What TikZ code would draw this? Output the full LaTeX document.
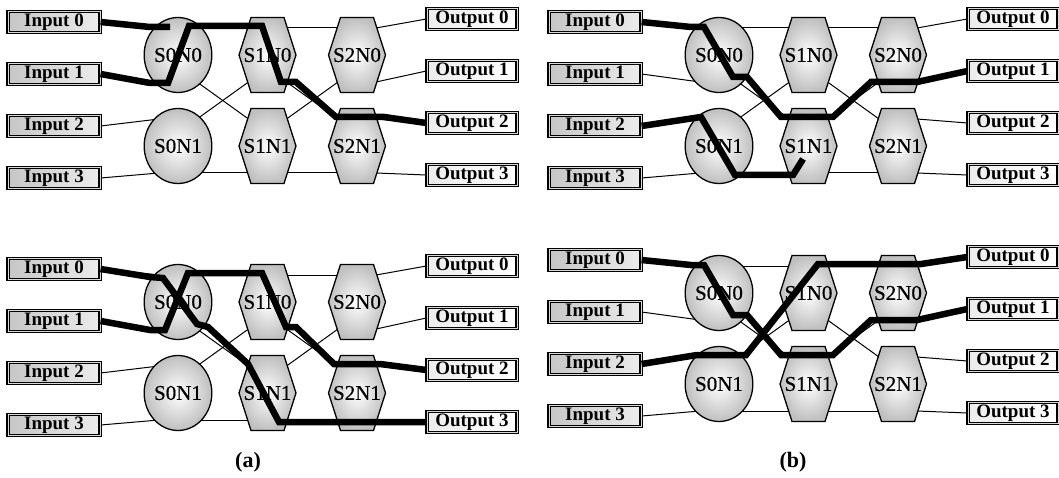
\documentclass[tikz,border=0pt]{standalone}
\usepackage{fontspec}
\setmainfont{Liberation Serif}
\newfontfamily\swfamily[FakeBold=0.6]{Liberation Serif}
\usetikzlibrary{shapes.geometric}
\pgfdeclarelayer{bg}
\pgfdeclarelayer{wires}
\pgfsetlayers{bg,wires,main}
\newcommand\boxfont{\bfseries\fontsize{19}{20}\selectfont}
\newcommand\swfont{\swfamily\fontsize{21}{22}\selectfont}
\tikzset{
 iobox/.style={draw=black, line width=1.2pt, double=gray!30, double distance=0.8pt, minimum width=90pt, minimum height=21pt, inner sep=0pt, font=\boxfont},
 inbox/.style={iobox, minimum width=92pt, left color=gray!45, right color=gray!15},
 outbox/.style={iobox, left color=gray!15, right color=white},
 swell/.style={ellipse, draw=black, line width=1.3pt, minimum width=55pt, minimum height=75pt, inner sep=0pt, inner color=white, outer color=gray!50, font=\swfont},
 hexfill/.style={draw=black, line width=1.3pt, inner color=white, outer color=gray!50},
 hexlbl/.style={minimum width=57pt, minimum height=75pt, inner sep=0pt, font=\swfont},
 wire/.style={line width=1pt},
 route/.style={line width=6.5pt, miter limit=3},
 caption/.style={font=\bfseries\fontsize{22}{23}\selectfont},
}
\newcommand\drawpanel[3]{%
 \foreach \i in {0,...,3}{
   \node[inbox] (#1I\i) at ({#2+54},{#3+52*\i}) {Input \i};
   \node[outbox] (#1O\i) at ({#2+472},{#3-3+52*\i}) {Output \i};
 }
 \foreach \r in {0,1}{
   \node[swell] (#1S0\r) at ({#2+178},{#3+33+91*\r}) {S0N\r};
   \foreach \s in {1,2}{
     \path[hexfill, shift={({#2+178+89.5*\s},{#3+33+91*\r})}] (-28.5,0) -- (-16.5,-37.5) -- (16.5,-37.5) -- (28.5,0) -- (16.5,37.5) -- (-16.5,37.5) -- cycle;
     \node[hexlbl] (#1S\s\r) at ({#2+178+89.5*\s},{#3+33+91*\r}) {S\s N\r};
   }
 }
 \begin{pgfonlayer}{wires}
  \draw[wire] (#1I0.east) -- ([shift={(-19,-27)}]#1S00.center);
  \draw[wire] (#1I1.east) -- ([shift={(-19,27)}]#1S00.center);
  \draw[wire] (#1I2.east) -- ([shift={(-19,-27)}]#1S01.center);
  \draw[wire] (#1I3.east) -- ([shift={(-19,27)}]#1S01.center);
  \draw[wire] ([shift={(19,-27)}]#1S00.center) -- ([shift={(-19,-27)}]#1S10.center);
  \draw[wire] ([shift={(19,27)}]#1S00.center) -- ([shift={(-19,-27)}]#1S11.center);
  \draw[wire] ([shift={(19,-27)}]#1S01.center) -- ([shift={(-19,27)}]#1S10.center);
  \draw[wire] ([shift={(19,27)}]#1S01.center) -- ([shift={(-19,27)}]#1S11.center);
  \draw[wire] ([shift={(19,-27)}]#1S10.center) -- ([shift={(-19,-27)}]#1S20.center);
  \draw[wire] ([shift={(19,27)}]#1S10.center) -- ([shift={(-19,-27)}]#1S21.center);
  \draw[wire] ([shift={(19,-27)}]#1S11.center) -- ([shift={(-19,27)}]#1S20.center);
  \draw[wire] ([shift={(19,27)}]#1S11.center) -- ([shift={(-19,27)}]#1S21.center);
  \draw[wire] ([shift={(19,-27)}]#1S20.center) -- (#1O0.west);
  \draw[wire] ([shift={(19,27)}]#1S20.center) -- (#1O1.west);
  \draw[wire] ([shift={(19,-27)}]#1S21.center) -- (#1O2.west);
  \draw[wire] ([shift={(19,27)}]#1S21.center) -- (#1O3.west);
 \end{pgfonlayer}
}
\begin{document}
\begin{tikzpicture}[x=1pt,y=-1pt]
\useasboundingbox (0,0) rectangle (1059,478);
\begin{pgfonlayer}{bg}
\fill[white] (0,0) rectangle (1059,478);
\end{pgfonlayer}
\drawpanel{a}{0}{22}
\drawpanel{b}{541}{22}
\drawpanel{c}{0}{269}
\drawpanel{d}{541}{260}
% top-left
\def\dx{0}\def\dy{22}
\draw[route] (aI0.east) -- ({\dx+150},{\dy+5}) -- ({\dx+170},{\dy+5});
\draw[route] (aI1.east) -- ({\dx+150},{\dy+61}) -- ({\dx+168},{\dy+61}) -- ({\dx+189},{\dy+4}) -- ({\dx+262},{\dy+4}) -- ({\dx+281},{\dy+60}) -- ({\dx+296},{\dy+60}) -- ({\dx+336},{\dy+95}) -- ({\dx+384},{\dy+95}) -- (aO2.west);
% top-right
\def\dx{541}\def\dy{22}
\draw[route] (bI0.east) -- ({\dx+150},{\dy+5}) -- ({\dx+163},{\dy+5}) -- ({\dx+192},{\dy+55}) -- ({\dx+206},{\dy+55}) -- ({\dx+240},{\dy+95}) -- ({\dx+292},{\dy+95}) -- ({\dx+330},{\dy+60}) -- ({\dx+376},{\dy+60}) -- (bO1.west);
\draw[route] (bI2.east) -- ({\dx+160},{\dy+95}) -- ({\dx+194},{\dy+153}) -- ({\dx+252},{\dy+153}) -- ({\dx+262},{\dy+137});
% bottom-left
\def\dx{0}\def\dy{269}
\draw[route] (cI0.east) -- ({\dx+150},{\dy+8}) -- ({\dx+163},{\dy+9}) -- ({\dx+197},{\dy+55}) -- ({\dx+208},{\dy+58}) -- ({\dx+248},{\dy+95}) -- ({\dx+279},{\dy+153}) -- ({\dx+380},{\dy+153}) -- (cO3.west);
\draw[route] (cI1.east) -- ({\dx+150},{\dy+61}) -- ({\dx+165},{\dy+61}) -- ({\dx+188},{\dy+4}) -- ({\dx+262},{\dy+4}) -- ({\dx+286},{\dy+58}) -- ({\dx+296},{\dy+58}) -- ({\dx+334},{\dy+95}) -- ({\dx+380},{\dy+95}) -- (cO2.west);
% bottom-right
\def\dx{541}\def\dy{260}
\draw[route] (dI0.east) -- ({\dx+150},{\dy+5}) -- ({\dx+163},{\dy+5}) -- ({\dx+192},{\dy+55}) -- ({\dx+206},{\dy+55}) -- ({\dx+240},{\dy+95}) -- ({\dx+292},{\dy+95}) -- ({\dx+330},{\dy+60}) -- ({\dx+376},{\dy+60}) -- (dO1.west);
\draw[route] (dI2.east) -- ({\dx+156},{\dy+95}) -- ({\dx+205},{\dy+95}) -- ({\dx+277},{\dy+4}) -- ({\dx+380},{\dy+4}) -- (dO0.west);
\node[caption] (capa) at (248,462) {(a)};
\node[caption] (capb) at (793,462) {(b)};
\end{tikzpicture}
\end{document}
